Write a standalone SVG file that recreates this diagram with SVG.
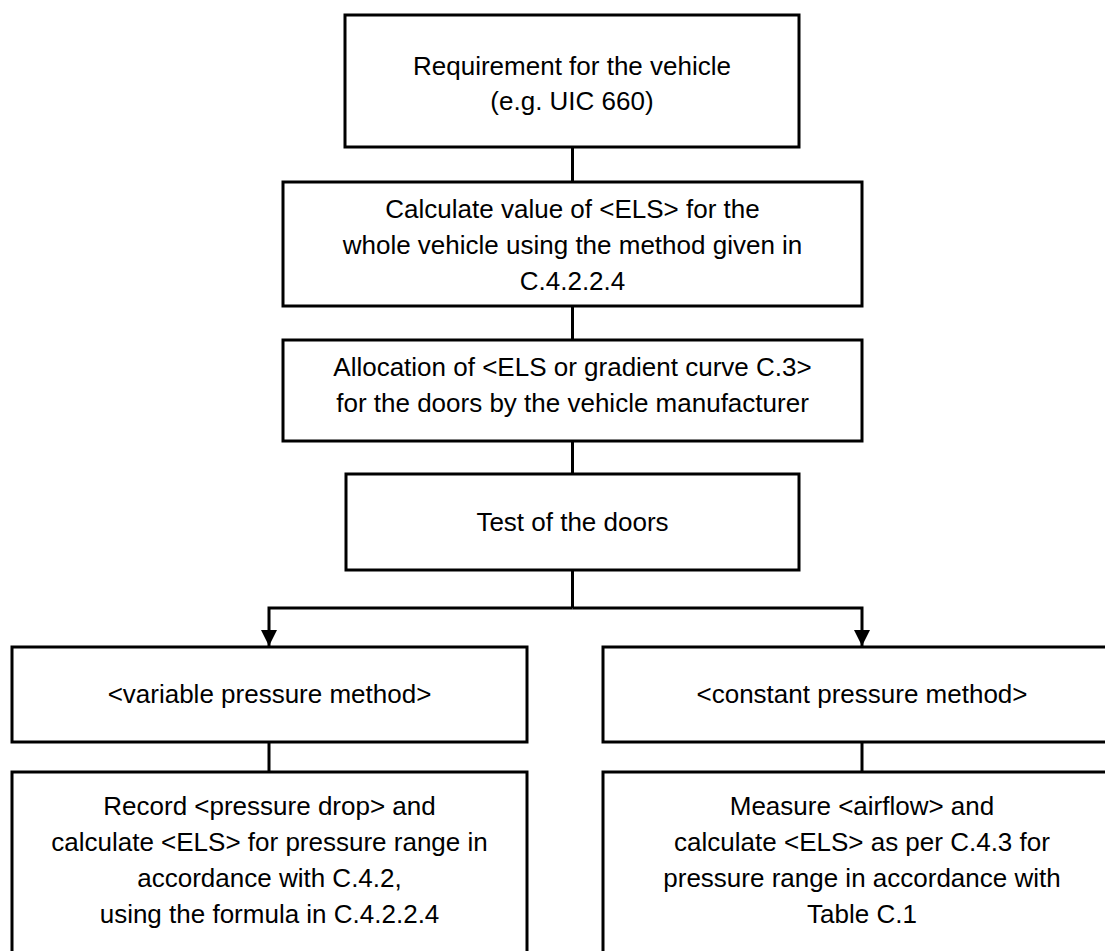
<svg xmlns="http://www.w3.org/2000/svg" width="1105" height="951" viewBox="0 0 1105 951">
<style>
.box{fill:#fff;stroke:#000;stroke-width:3}
.t{font-family:"Liberation Sans",Arial,sans-serif;font-size:26px;fill:#000;text-anchor:middle}
.c{fill:none;stroke:#000;stroke-width:3}
</style>
<defs>
<marker id="ah" markerUnits="userSpaceOnUse" markerWidth="16" markerHeight="16" refX="16" refY="8" orient="auto" viewBox="0 0 16 16">
<path d="M0,0 L16,8 L0,16 Z" fill="#000"/>
</marker>
</defs>
<rect width="1105" height="951" fill="#fff"/>
<g id="connectors">
<line class="c" x1="572.5" y1="147" x2="572.5" y2="182"/>
<line class="c" x1="572.5" y1="306" x2="572.5" y2="340"/>
<line class="c" x1="572.5" y1="441" x2="572.5" y2="474"/>
<line class="c" x1="572.5" y1="570" x2="572.5" y2="608"/>
<path class="c" d="M572.5,608 H269 V646" marker-end="url(#ah)"/>
<path class="c" d="M572.5,608 H862 V646" marker-end="url(#ah)"/>
<line class="c" x1="269" y1="742" x2="269" y2="772"/>
<line class="c" x1="862" y1="742" x2="862" y2="772"/>
</g>
<g id="n1">
<rect class="box" x="345" y="15" width="454" height="132"/>
<text class="t" x="572" y="75">Requirement for the vehicle</text>
<text class="t" x="572" y="110">(e.g. UIC 660)</text>
</g>
<g id="n2">
<rect class="box" x="283" y="182" width="579" height="124"/>
<text class="t" x="572.5" y="218">Calculate value of &lt;ELS&gt; for the</text>
<text class="t" x="572.5" y="254">whole vehicle using the method given in</text>
<text class="t" x="572.5" y="290">C.4.2.2.4</text>
</g>
<g id="n3">
<rect class="box" x="283" y="340" width="579" height="101"/>
<text class="t" x="572.5" y="376">Allocation of &lt;ELS or gradient curve C.3&gt;</text>
<text class="t" x="572.5" y="412">for the doors by the vehicle manufacturer</text>
</g>
<g id="n4">
<rect class="box" x="346" y="474" width="453" height="96"/>
<text class="t" x="572.5" y="531">Test of the doors</text>
</g>
<g id="n5">
<rect class="box" x="12" y="647" width="515" height="95"/>
<text class="t" x="269.5" y="703">&lt;variable pressure method&gt;</text>
</g>
<g id="n6">
<rect class="box" x="603" y="647" width="518" height="95"/>
<text class="t" x="862" y="703">&lt;constant pressure method&gt;</text>
</g>
<g id="n7">
<rect class="box" x="12" y="772" width="515" height="200"/>
<text class="t" x="269.5" y="815">Record &lt;pressure drop&gt; and</text>
<text class="t" x="269.5" y="851">calculate &lt;ELS&gt; for pressure range in</text>
<text class="t" x="269.5" y="887">accordance with C.4.2,</text>
<text class="t" x="269.5" y="923">using the formula in C.4.2.2.4</text>
</g>
<g id="n8">
<rect class="box" x="603" y="772" width="518" height="200"/>
<text class="t" x="862" y="815">Measure &lt;airflow&gt; and</text>
<text class="t" x="862" y="851">calculate &lt;ELS&gt; as per C.4.3 for</text>
<text class="t" x="862" y="887">pressure range in accordance with</text>
<text class="t" x="862" y="923">Table C.1</text>
</g>
</svg>
